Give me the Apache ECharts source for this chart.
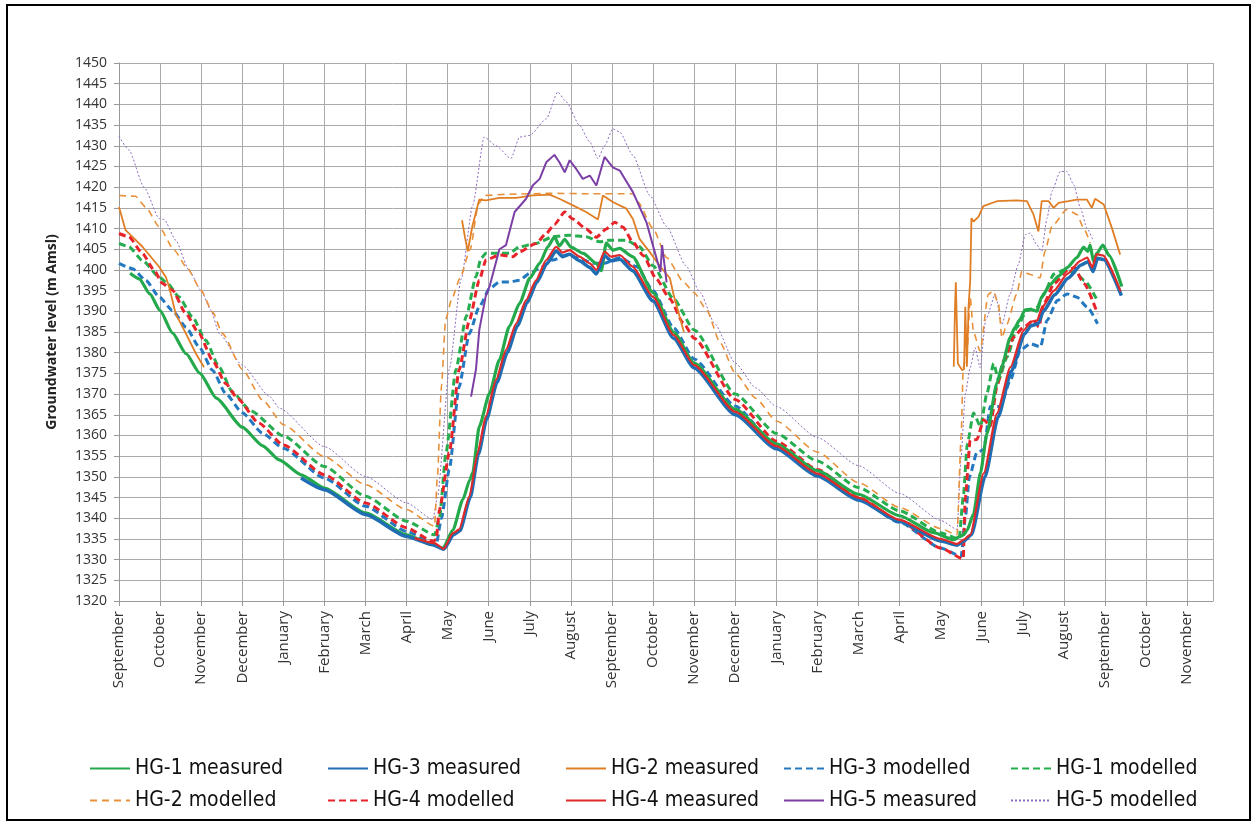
<!DOCTYPE html>
<html>
<head>
<meta charset="utf-8">
<script src="https://cdn.jsdelivr.net/npm/echarts@6/dist/echarts.min.js"></script>
<style>
html, body { margin: 0; padding: 0; background: #fff; }
#main { width: 1257px; height: 828px; }
</style>
</head>
<body>
<div id="main"></div>
<script>
// x = months since the first September
var months = ['September', 'October', 'November', 'December', 'January', 'February', 'March', 'April', 'May', 'June', 'July', 'August',
	'September', 'October', 'November', 'December', 'January', 'February', 'March', 'April', 'May', 'June', 'July', 'August',
	'September', 'October', 'November'];

var hg1Measured = [[0.27,1399.2],[0.5,1397.8],[0.75,1394.2],[1.0,1390.2],[1.3,1384.8],[1.63,1379.8],[1.97,1375],[2.37,1369],[3.0,1362],[3.5,1357.5],[3.9,1354.1],[4.43,1350.5],[5,1347.3],[6,1341.3],[7,1336],[7.64,1333.6],[7.89,1332.8],[8.13,1337.2],[8.37,1344.5],[8.54,1349.3],[8.61,1351],[8.77,1362.2],[9.02,1370.2],[9.26,1378.3],[9.5,1386.3],[9.75,1391.9],[10,1398],[10.24,1401.6],[10.44,1405.6],[10.6,1408],[10.72,1405.8],[10.85,1407.4],[11.0,1405.5],[11.3,1404],[11.62,1401.6],[11.74,1399.8],[11.86,1406.5],[12.02,1404.8],[12.19,1405.2],[12.5,1403.2],[13,1394.5],[13.5,1385],[14,1377.5],[15,1366.3],[16,1358],[17,1351.5],[18,1345.8],[19,1340.6],[19.83,1336.5],[20.32,1334.8],[20.45,1335.5],[20.56,1336],[20.64,1337],[20.8,1341],[20.97,1351],[21.13,1360.5],[21.37,1372.6],[21.5,1377],[21.69,1383.6],[21.8,1386],[21.93,1388],[22.05,1390.3],[22.18,1390.5],[22.35,1390],[22.45,1393.3],[22.67,1396.5],[22.87,1398.5],[23.07,1400.5],[23.32,1403],[23.48,1405.5],[23.58,1404.5],[23.64,1406],[23.72,1402],[23.8,1404],[23.95,1406],[24.1,1403.5],[24.41,1396]];

var hg4Measured = [[7.2,1335.2],[7.68,1334],[7.9,1332.6],[8.13,1336.4],[8.28,1337.3],[8.53,1345.3],[8.73,1355.8],[8.93,1364.6],[9.18,1373.5],[9.42,1380.7],[9.67,1387.1],[9.91,1392.7],[10.15,1397.5],[10.4,1402.4],[10.64,1405.6],[10.8,1404.2],[10.97,1404.8],[11.21,1403.2],[11.46,1401.6],[11.62,1400],[11.82,1404.4],[11.98,1403.2],[12.19,1403.6],[12.5,1400.8],[13,1393.5],[13.5,1384.3],[14,1377],[15,1365.7],[16,1357.4],[17,1350.8],[18,1345],[19,1339.6],[20,1335],[20.4,1333.8],[20.56,1334.8],[20.72,1336],[21.05,1350.9],[21.37,1365.3],[21.7,1376.5],[22.02,1385.4],[22.2,1387.5],[22.35,1387.8],[22.47,1391],[22.76,1395],[23.08,1399],[23.4,1402.2],[23.57,1403],[23.69,1400.6],[23.8,1403.8],[23.95,1403.5],[24.38,1394.8]];

var hg3Measured = [[4.43,1349.7],[5,1346.9],[6,1340.9],[7,1335.6],[7.64,1333.6],[7.9,1332.5],[8.15,1336],[8.3,1337],[8.55,1345],[8.75,1355.5],[8.95,1364],[9.2,1372.8],[9.45,1380],[9.7,1386.5],[9.93,1392],[10.17,1397],[10.42,1401.6],[10.64,1404.6],[10.8,1403.2],[10.97,1403.8],[11.21,1402.2],[11.46,1400.6],[11.62,1399],[11.82,1403.4],[11.98,1402.2],[12.19,1402.6],[12.5,1399.8],[13,1392.5],[13.5,1383.5],[14,1376.3],[15,1365],[16,1356.8],[17,1350.2],[18,1344.4],[19,1339.2],[20,1334.5],[20.4,1333.5],[20.56,1334.5],[20.75,1336],[21.08,1350],[21.4,1364.5],[21.72,1375.5],[22.04,1384.5],[22.2,1386.5],[22.37,1387],[22.5,1390],[22.78,1394],[23.1,1398],[23.42,1401.2],[23.59,1402],[23.71,1399.6],[23.82,1402.8],[23.97,1402.5],[24.4,1393.8]];

var hg2Measured = [[0,1415.2],[0.16,1409.6],[0.33,1408],[0.57,1405.6],[0.98,1400.7],[1.14,1398.3],[1.22,1395.9],[1.38,1389.4],[1.63,1384.6],[1.87,1379.8],[2.07,1376.5],[2.1,null],
	[8.35,1412],[8.42,1408],[8.49,1404.5],[8.6,1410.5],[8.77,1417],[8.93,1416.8],[9.26,1417.4],[9.67,1417.4],[10.07,1418],[10.48,1418.2],[10.72,1417.2],[11.05,1415.6],[11.37,1414],[11.66,1412.2],[11.78,1418],[12.02,1416.4],[12.35,1414.8],[12.51,1412.3],[12.67,1407.5],[12.92,1404.3],[13.16,1401],[13.41,1398],[13.5,1394],[13.75,1385],[13.8,null],
	[20.32,1376.6],[20.35,1391],[20.37,1397],[20.4,1385],[20.42,1377.4],[20.52,1375.8],[20.57,1376],[20.6,1391.1],[20.64,1376.6],[20.68,1391.1],[20.72,1397.5],[20.75,1412.5],[20.8,1411.7],[20.92,1412.8],[21.04,1415.4],[21.37,1416.6],[21.85,1416.8],[22.1,1416.6],[22.26,1413.4],[22.38,1409.3],[22.46,1416.6],[22.63,1416.6],[22.75,1415],[22.87,1416.2],[23.11,1416.6],[23.32,1417],[23.56,1417],[23.68,1415],[23.76,1417.2],[23.97,1415.8],[24.17,1410.1],[24.37,1403.7]];

var hg3Modelled = [[0,1401.6],[0.33,1400.3],[0.65,1397.5],[0.98,1393.5],[1.3,1390.2],[1.63,1386.2],[1.95,1381.4],[2.28,1375.7],[2.6,1370.1],[3,1365.5],[3.5,1360.5],[4,1356.9],[5,1349.7],[6,1342.9],[7,1336.8],[7.72,1333.6],[7.85,1340],[8.04,1351.8],[8.28,1371.8],[8.53,1384.7],[8.77,1391.1],[9.02,1395.5],[9.26,1397.1],[9.5,1397.1],[9.75,1397.5],[10,1399.2],[10.24,1400.4],[10.56,1402.4],[10.89,1403.6],[11.21,1402.8],[11.54,1401.6],[11.82,1401.6],[12.2,1403],[12.6,1400.8],[13,1395],[13.5,1386],[14,1378.5],[15,1367.1],[16,1357.4],[17,1351],[18,1344.6],[19,1339],[20,1332.8],[20.5,1330.8],[20.6,1340],[20.7,1350],[20.88,1355.8],[21.05,1356.6],[21.21,1367],[21.45,1367],[21.7,1373.4],[21.94,1380.6],[22.18,1382.2],[22.43,1381.4],[22.59,1387.8],[22.84,1392.6],[23.08,1394.2],[23.32,1393.4],[23.57,1391],[23.82,1387]];

var hg1Modelled = [[0,1406.4],[0.24,1405.6],[0.57,1402.3],[0.98,1398.3],[1.18,1396.7],[1.46,1393.5],[1.79,1388.6],[2.11,1383],[2.44,1376.5],[2.76,1370.5],[3.2,1366],[4,1359.9],[5,1352.5],[6,1345.3],[7,1339.3],[7.68,1336],[7.8,1340],[7.96,1355.8],[8.2,1375.9],[8.45,1388.7],[8.69,1398.4],[8.81,1402.8],[8.93,1404],[9.26,1404],[9.5,1404],[9.75,1405.6],[10.15,1406.4],[10.56,1408],[10.97,1408.4],[11.37,1408],[11.7,1406.8],[11.94,1407.2],[12.35,1407.2],[12.67,1405.6],[13,1401],[13.5,1393],[14,1385.5],[15,1370],[16,1360.5],[17,1353.8],[18,1347.4],[19,1341.8],[20,1336.5],[20.45,1335],[20.55,1345],[20.65,1358],[20.8,1365.4],[20.97,1362.2],[21.13,1370.3],[21.29,1377.4],[21.41,1373.4],[21.62,1379],[21.86,1386.2],[22.1,1390.2],[22.35,1391],[22.51,1394.2],[22.76,1399],[23.0,1400],[23.25,1399.5],[23.5,1397.5],[23.82,1392.5]];

var hg4Modelled = [[0,1408.8],[0.24,1408],[0.57,1404],[0.85,1400],[1.06,1396.7],[1.3,1395.1],[1.63,1389.4],[1.95,1384.6],[2.28,1378.1],[2.6,1372.5],[2.89,1368.9],[3.4,1363],[4,1357.7],[5,1350.5],[6,1343.7],[7,1337.7],[7.64,1334.4],[7.72,1334.9],[7.8,1342],[8.04,1355.8],[8.28,1375.9],[8.53,1387.9],[8.77,1397.5],[8.93,1402.4],[9.26,1403.6],[9.59,1403.2],[9.75,1404.4],[10.15,1406.4],[10.4,1408.8],[10.6,1411],[10.85,1414],[11.05,1412.3],[11.37,1409.9],[11.62,1407.9],[11.86,1409.9],[12.07,1411.5],[12.27,1410.3],[12.51,1406.7],[12.76,1403.5],[13.08,1397.8],[13.41,1393],[13.73,1387.3],[14,1383.5],[15,1368.7],[16,1358.6],[17,1351.8],[18,1345],[19,1339.4],[20,1332.8],[20.55,1330.2],[20.6,1345],[20.72,1358.9],[20.88,1359],[21.05,1363.8],[21.21,1362.2],[21.37,1371.8],[21.54,1378.2],[21.78,1383.8],[22.02,1386.2],[22.27,1387.8],[22.39,1386.2],[22.51,1391.8],[22.76,1396.7],[23.08,1399.8],[23.25,1400.6],[23.49,1396.7],[23.82,1389.4]];

var hg2Modelled = [[0,1418],[0.4,1417.8],[0.65,1415.2],[0.98,1410.4],[1.34,1404.8],[1.67,1400.3],[2.0,1395],[2.28,1389.8],[2.52,1384.6],[3,1376],[3.5,1368.5],[4,1362.6],[5,1354.9],[6,1348.1],[7,1342.1],[7.68,1338.1],[7.75,1350],[7.85,1372],[7.95,1388],[8.1,1393],[8.3,1398],[8.55,1405],[8.75,1416],[8.9,1418],[9.5,1418.3],[10.5,1418.5],[11.5,1418.4],[12.51,1418.4],[12.63,1416.4],[13,1410],[13.33,1403],[13.75,1397],[14,1394.5],[14.3,1390.4],[14.63,1382.5],[15,1375],[15.5,1369],[16,1363.5],[17,1356],[18,1348.6],[19,1342.6],[20,1337.5],[20.4,1336],[20.5,1360],[20.55,1376.4],[20.64,1380],[20.72,1393.3],[20.8,1385],[20.96,1380.4],[21.16,1394.1],[21.28,1394.9],[21.41,1391.7],[21.49,1383.6],[21.61,1386.8],[21.85,1394.1],[21.98,1399.7],[22.18,1398.9],[22.42,1398.1],[22.54,1404.5],[22.71,1410.5],[23.07,1414.6],[23.32,1413.4],[23.48,1410.1],[23.64,1406.5]];

var hg5Measured = [[8.57,1369.4],[8.69,1376],[8.77,1385.5],[8.93,1393.8],[9.02,1396],[9.26,1405],[9.42,1406],[9.63,1414],[9.91,1417.2],[10.07,1420.4],[10.24,1422],[10.4,1426],[10.6,1427.8],[10.72,1426],[10.85,1423.6],[10.97,1426.5],[11.13,1424.4],[11.29,1422],[11.46,1422.8],[11.62,1420.4],[11.82,1427.3],[12.02,1424.8],[12.19,1424],[12.51,1418.8],[12.84,1411.5],[13.05,1404],[13.18,1399.5],[13.22,1406],[13.33,1397]];

var hg5Modelled = [[0,1432.3],[0.24,1429],[0.61,1420],[0.98,1412.4],[1.1,1412.2],[1.38,1407.2],[1.7,1400],[2.0,1395],[2.24,1390.2],[2.44,1384.6],[3,1377],[3.66,1369.5],[3.9,1366.6],[5,1357.3],[6,1350.1],[7,1343.7],[7.64,1339.7],[7.75,1345],[8.04,1376],[8.33,1397.8],[8.61,1415.6],[8.89,1432.1],[9.18,1430],[9.54,1426.9],[9.75,1432.1],[10,1432.5],[10.4,1436.5],[10.68,1443],[10.89,1440.6],[11.21,1434.9],[11.46,1430.9],[11.66,1426.9],[11.82,1430],[12.02,1434.1],[12.19,1433.3],[12.51,1427.7],[12.92,1418],[13.33,1410.5],[13.8,1401],[14.15,1394.5],[14.5,1387],[15,1377.5],[15.5,1371.5],[16,1367],[17,1359.5],[18,1352.7],[19,1346],[20,1339.5],[20.4,1337.3],[20.5,1355],[20.6,1370],[20.72,1376.4],[20.84,1381.2],[20.96,1376.4],[21.1,1388],[21.33,1394.1],[21.49,1386.8],[21.69,1394.1],[21.89,1401.3],[22.06,1408.5],[22.18,1408.9],[22.34,1406.1],[22.46,1404.5],[22.59,1412.5],[22.71,1419],[22.91,1423.8],[23.07,1423.8],[23.24,1420.6],[23.4,1415],[23.56,1410.1],[23.72,1406.9]];

var myChart = echarts.init(document.getElementById('main'));

function line(name, data, color, width, type, smooth) {
	return {
		name : name,
		type : 'line',
		data : data,
		symbol : 'none',
		smooth : smooth,
		smoothMonotone : 'x',
		connectNulls : false,
		animation : false,
		color : color,
		lineStyle : { color : color, width : width, type : type }
	};
}

function legendAt(name, left, top) {
	return {
		data : [ name ],
		left : left,
		top : top,
		itemWidth : 40,
		itemHeight : 12,
		itemStyle : { opacity : 0 },
		selectedMode : false,
		textStyle : { fontSize : 21, fontFamily : 'Liberation Sans Narrow, DejaVu Sans Condensed, Liberation Sans', color : '#111' }
	};
}

var option = {
	backgroundColor : '#fff',
	animation : false,
	grid : { left : 119, right : 44, top : 63, bottom : 227 },
	graphic : [ {
		type : 'rect',
		shape : { x : 7, y : 5, width : 1243, height : 815 },
		style : { fill : 'none', stroke : '#000', lineWidth : 2 }
	} ],
	legend : [
		legendAt('HG-1 measured', 84, 753),
		legendAt('HG-3 measured', 322, 753),
		legendAt('HG-2 measured', 560, 753),
		legendAt('HG-3 modelled', 778, 753),
		legendAt('HG-1 modelled', 1005, 753),
		legendAt('HG-2 modelled', 84, 785),
		legendAt('HG-4 modelled', 322, 785),
		legendAt('HG-4 measured', 560, 785),
		legendAt('HG-5 measured', 778, 785),
		legendAt('HG-5 modelled', 1005, 785)
	],
	xAxis : {
		type : 'value',
		min : 0,
		max : 26.63,
		interval : 1,
		axisLine : { lineStyle : { color : '#999' } },
		axisTick : { show : true, length : 5, lineStyle : { color : '#999' } },
		splitLine : { show : true, lineStyle : { color : '#aaa', width : 1 } },
		axisLabel : {
			rotate : 90,
			margin : 10,
			fontSize : 15,
			fontFamily : 'Open Sans',
			color : '#333',
			showMaxLabel : false,
			formatter : function (v) {
				return Number.isInteger(v) && months[v] ? months[v] : '';
			}
		}
	},
	yAxis : {
		type : 'value',
		min : 1320,
		max : 1450,
		interval : 5,
		name : 'Groundwater level (m Amsl)',
		nameLocation : 'middle',
		nameGap : 60,
		nameTextStyle : { fontSize : 14, fontWeight : 'bold', fontFamily : 'Open Sans', color : '#222' },
		axisLine : { show : true, lineStyle : { color : '#999' } },
		axisTick : { show : true, length : 5, lineStyle : { color : '#999' } },
		splitLine : { lineStyle : { color : '#aaa', width : 1 } },
		axisLabel : {
			fontSize : 14,
			fontFamily : 'Open Sans',
			color : '#333',
			margin : 12,
			formatter : function (v) { return String(v); }
		}
	},
	series : [
		line('HG-5 modelled', hg5Modelled, '#8f6cc0', 1, [ 2, 2 ], 0.2),
		line('HG-2 modelled', hg2Modelled, '#e8913a', 1.6, [ 7, 5 ], 0.2),
		line('HG-3 modelled', hg3Modelled, '#2478c0', 3, [ 7, 4 ], 0.2),
		line('HG-1 modelled', hg1Modelled, '#25ad4f', 3, [ 7, 4 ], 0.2),
		line('HG-4 modelled', hg4Modelled, '#e8242b', 3, [ 7, 4 ], 0.2),
		line('HG-2 measured', hg2Measured, '#e07e25', 1.8, 'solid', false),
		line('HG-5 measured', hg5Measured, '#7b3fa5', 2, 'solid', false),
		line('HG-1 measured', hg1Measured, '#23a94b', 3.2, 'solid', 0.2),
		line('HG-3 measured', hg3Measured, '#1f6db3', 3.5, 'solid', 0.2),
		line('HG-4 measured', hg4Measured, '#e02a2a', 2.2, 'solid', 0.2)
	]
};
myChart.setOption(option);
</script>
</body>
</html>
